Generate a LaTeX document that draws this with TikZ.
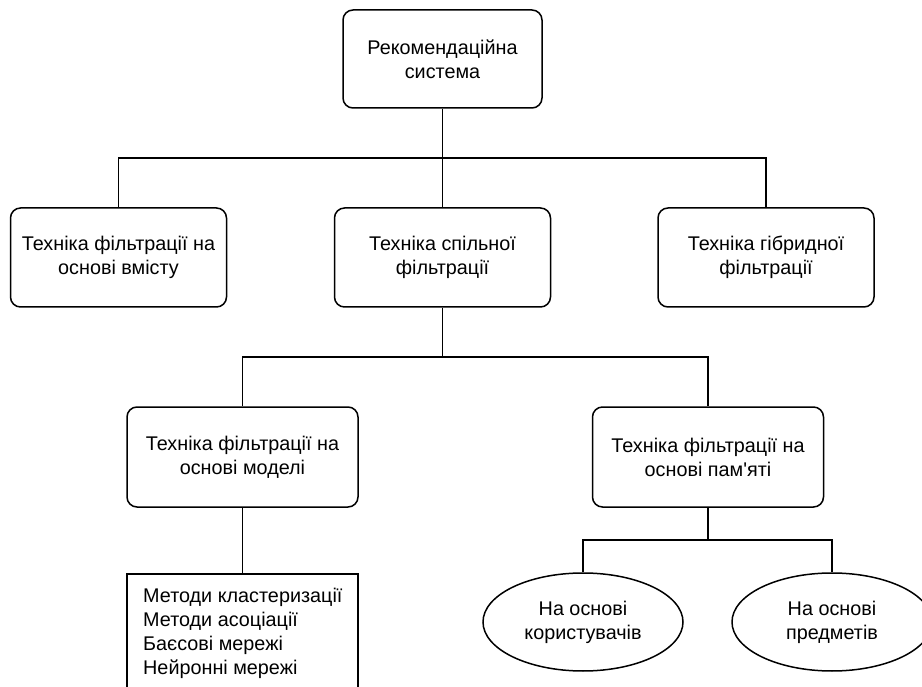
\documentclass[tikz,border=0pt]{standalone}
\usepackage{fontspec}
\setmainfont{Liberation Sans}[Ligatures=TeXOff]
\usetikzlibrary{shapes.geometric}
\begin{document}
\begin{tikzpicture}[x=1pt,y=-1pt,
  every node/.style={font=\fontsize{19.8}{24}\selectfont},
  box/.style={draw, line width=1.5pt, rounded corners=10pt, align=center, fill=white},
  oval/.style={draw, line width=1.5pt, ellipse, align=center, minimum width=200, minimum height=98, inner sep=0pt},
  link/.style={line width=1.5pt}]
\useasboundingbox (0,0) rectangle (922,687);
\clip (0,0) rectangle (922,687);
\fill[white] (0,0) rectangle (922,687);
\node[box, minimum width=199, minimum height=98] (top) at (442.5,59) {Рекомендаційна\\система};
\node[box, minimum width=216, minimum height=99] (left) at (118.5,257.5) {Техніка фільтрації на\\основі вмісту};
\node[box, minimum width=216, minimum height=99] (mid) at (442.5,257.5) {Техніка спільної\\фільтрації};
\node[box, minimum width=216, minimum height=99] (right) at (766,257.5) {Техніка гібридної\\фільтрації};
\node[box, minimum width=231, minimum height=100] (model) at (242.5,457) {Техніка фільтрації на\\основі моделі};
\node[box, minimum width=231, minimum height=100] (mem) at (708,457) {Техніка фільтрації на\\основі пам'яті};
\node[draw, line width=1.5pt, minimum width=231, minimum height=140, anchor=north] (list) at (242.5,573) {};
\node[anchor=north west, align=left, inner sep=0pt] (listtxt) at (143,588) {Методи кластеризації\\Методи асоціації\\Баєсові мережі\\Нейронні мережі};
\node[oval] (u) at (583,622) {На основі\\користувачів};
\node[oval] (p) at (832,622) {На основі\\предметів};
\coordinate (j1) at (442.5,158);
\coordinate (j2) at (442.5,357);
\coordinate (j3) at (708,540);
\draw[link] (top.south) -- (j1);
\draw[link] (left.north) |- (j1) -| (right.north);
\draw[link] (j1) -- (mid.north);
\draw[link] (mid.south) -- (j2);
\draw[link] (model.north) |- (j2) -| (mem.north);
\draw[link] (model.south) -- (list.north);
\draw[link] (mem.south) -- (j3);
\draw[link] (u.north) |- (j3) -| (p.north);
\end{tikzpicture}
\end{document}
